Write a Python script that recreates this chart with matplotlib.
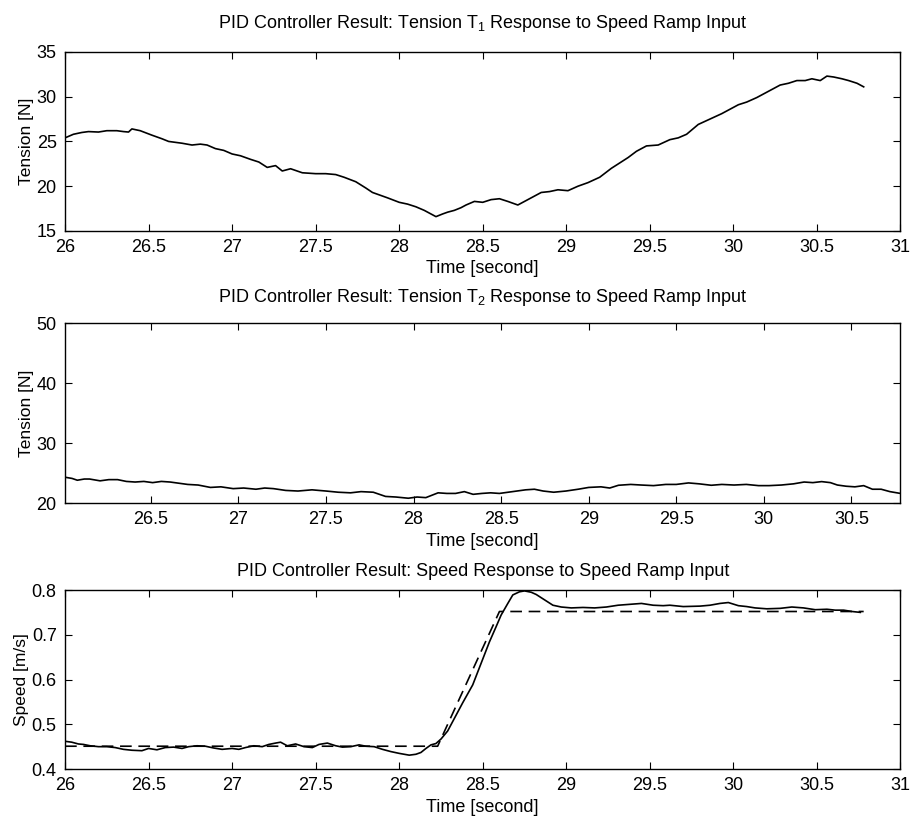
import matplotlib
matplotlib.use("Agg")
import matplotlib.pyplot as plt
import numpy as np

# fonts - helvetica look of the old matlab print
plt.rcParams['font.family'] = ['Liberation Sans Narrow', 'Liberation Sans', 'DejaVu Sans']
plt.rcParams['mathtext.fontset'] = 'custom'
plt.rcParams['mathtext.rm'] = 'Liberation Sans'
plt.rcParams['mathtext.default'] = 'regular'

# tension T1
t1_time = [26.0, 26.05, 26.1, 26.14, 26.2, 26.25, 26.31, 26.35, 26.38, 26.4, 26.45, 26.52,
           26.58, 26.62, 26.7, 26.76, 26.81, 26.85, 26.9, 26.95, 27.0, 27.05, 27.11, 27.16,
           27.21, 27.26, 27.3, 27.35, 27.42, 27.5, 27.56, 27.62, 27.67, 27.74, 27.8, 27.84,
           27.9, 27.93, 28.0, 28.05, 28.1, 28.15, 28.22, 28.26, 28.29, 28.33, 28.37, 28.4,
           28.45, 28.5, 28.55, 28.6, 28.65, 28.71, 28.76, 28.8, 28.85, 28.9, 28.95, 29.01,
           29.07, 29.13, 29.2, 29.27, 29.32, 29.37, 29.42, 29.48, 29.55, 29.62, 29.67, 29.72,
           29.79, 29.86, 29.93, 29.98, 30.03, 30.08, 30.14, 30.2, 30.28, 30.33, 30.38, 30.43,
           30.47, 30.52, 30.56, 30.6, 30.65, 30.69, 30.74, 30.78]
t1_val = [25.4, 25.8, 26.0, 26.1, 26.05, 26.2, 26.2, 26.1, 26.05, 26.4, 26.2, 25.7,
          25.3, 25.0, 24.8, 24.6, 24.7, 24.6, 24.2, 24.0, 23.6, 23.4, 23.0, 22.7,
          22.1, 22.3, 21.7, 21.95, 21.5, 21.4, 21.4, 21.3, 21.0, 20.5, 19.8, 19.3,
          18.9, 18.7, 18.2, 18.0, 17.7, 17.3, 16.6, 16.9, 17.1, 17.3, 17.6, 17.9,
          18.3, 18.2, 18.5, 18.6, 18.3, 17.9, 18.4, 18.8, 19.3, 19.4, 19.6, 19.5,
          20.0, 20.4, 21.0, 22.0, 22.6, 23.2, 23.9, 24.5, 24.6, 25.2, 25.4, 25.8,
          26.9, 27.5, 28.1, 28.6, 29.1, 29.4, 29.9, 30.5, 31.3, 31.5, 31.8, 31.8,
          32.0, 31.8, 32.3, 32.2, 32.0, 31.8, 31.5, 31.1]

# tension T2
t2_time = [26.01, 26.05, 26.08, 26.12, 26.15, 26.21, 26.26, 26.31, 26.36, 26.41, 26.46,
           26.51, 26.56, 26.61, 26.66, 26.71, 26.77, 26.84, 26.9, 26.97, 27.03, 27.1, 27.15,
           27.2, 27.27, 27.34, 27.42, 27.5, 27.57, 27.64, 27.7, 27.77, 27.84, 27.9, 27.97,
           28.02, 28.07, 28.14, 28.19, 28.24, 28.29, 28.34, 28.39, 28.44, 28.49, 28.54, 28.59,
           28.64, 28.69, 28.74, 28.8, 28.87, 28.94, 29.0, 29.07, 29.12, 29.17, 29.24, 29.3,
           29.37, 29.44, 29.5, 29.57, 29.63, 29.7, 29.76, 29.83, 29.9, 29.97, 30.03, 30.1,
           30.17, 30.23, 30.28, 30.33, 30.38, 30.42, 30.47, 30.52, 30.57, 30.62, 30.67,
           30.72, 30.78]
t2_val = [24.3, 24.1, 23.8, 24.0, 24.0, 23.7, 23.9, 23.9, 23.6, 23.5, 23.6,
          23.4, 23.6, 23.5, 23.3, 23.1, 23.0, 22.6, 22.7, 22.4, 22.5, 22.3, 22.5,
          22.4, 22.1, 22.0, 22.2, 22.0, 21.8, 21.7, 21.9, 21.8, 21.1, 21.0, 20.8,
          21.0, 20.9, 21.7, 21.6, 21.6, 21.9, 21.45, 21.6, 21.7, 21.6, 21.8, 22.0,
          22.2, 22.3, 22.0, 21.8, 22.0, 22.3, 22.6, 22.7, 22.5, 22.96, 23.1, 23.0,
          22.9, 23.1, 23.1, 23.35, 23.2, 22.96, 23.1, 23.0, 23.1, 22.9, 22.9, 23.0,
          23.2, 23.5, 23.4, 23.57, 23.4, 23.0, 22.8, 22.7, 22.9, 22.3, 22.3,
          21.9, 21.6]

# speed, measured
v_time = [26.0, 26.04, 26.08, 26.11, 26.15, 26.2, 26.25, 26.3, 26.35, 26.4, 26.46, 26.5,
          26.55, 26.6, 26.65, 26.7, 26.74, 26.79, 26.84, 26.89, 26.94, 27.0, 27.04, 27.08,
          27.13, 27.18, 27.22, 27.26, 27.29, 27.33, 27.38, 27.43, 27.48, 27.52, 27.57, 27.62,
          27.66, 27.71, 27.76, 27.8, 27.85, 27.9, 27.95, 28.0, 28.06, 28.1, 28.13, 28.16,
          28.19, 28.22, 28.25, 28.29, 28.33, 28.38, 28.44, 28.49, 28.54, 28.58, 28.61,
          28.65, 28.68, 28.72, 28.75, 28.79, 28.82, 28.87, 28.92, 28.97, 29.03, 29.1, 29.17,
          29.24, 29.31, 29.38, 29.45, 29.52, 29.58, 29.62, 29.7, 29.8, 29.86, 29.92, 29.97,
          30.03, 30.08, 30.13, 30.2, 30.28, 30.35, 30.42, 30.49, 30.56, 30.61, 30.66,
          30.71, 30.76]
v_val = [0.462, 0.460, 0.456, 0.455, 0.452, 0.450, 0.450, 0.448, 0.444, 0.442, 0.441, 0.446,
         0.443, 0.448, 0.449, 0.446, 0.450, 0.452, 0.451, 0.447, 0.444, 0.446, 0.444, 0.448,
         0.452, 0.450, 0.455, 0.458, 0.460, 0.452, 0.456, 0.450, 0.448, 0.455, 0.458, 0.452,
         0.449, 0.450, 0.454, 0.451, 0.450, 0.444, 0.439, 0.435, 0.431, 0.433, 0.437, 0.446,
         0.454, 0.457, 0.467, 0.485, 0.513, 0.548, 0.588, 0.636, 0.684, 0.718, 0.744,
         0.770, 0.789, 0.796, 0.798, 0.795, 0.790, 0.778, 0.766, 0.762, 0.760, 0.761, 0.760,
         0.762, 0.766, 0.768, 0.770, 0.766, 0.765, 0.766, 0.763, 0.764, 0.766, 0.770, 0.772,
         0.765, 0.763, 0.760, 0.758, 0.759, 0.762, 0.760, 0.756, 0.757, 0.755, 0.755,
         0.752, 0.750]

# speed, reference ramp (dashed)
ref_time = [26.0, 28.23, 28.6, 30.78]
ref_val = [0.451, 0.451, 0.752, 0.752]

fig = plt.figure(figsize=(9.11, 8.19), dpi=100)

ax1 = fig.add_axes([0.0714, 0.7180, 0.917, 0.2186])
ax2 = fig.add_axes([0.0714, 0.3858, 0.917, 0.2198])
ax3 = fig.add_axes([0.0714, 0.0610, 0.917, 0.2186])

ylab_font = ['Liberation Sans', 'DejaVu Sans']

ax1.plot(t1_time, t1_val, color="black", lw=1.2)
ax1.set_xlim(26, 31)
ax1.set_ylim(15, 35)
ax1.set_xticks(np.arange(26, 31.01, 0.5))
ax1.set_yticks([15, 20, 25, 30, 35])
ax1.set_title(r"PID Controller Result: Tension $\mathrm{T}_1$ Response to Speed Ramp Input",
              fontsize=13, pad=17)
ax1.set_ylabel("Tension [N]", family=ylab_font, fontsize=12.5, labelpad=2)

ax2.plot(t2_time, t2_val, color="black", lw=1.2)
ax2.set_xlim(26.01, 30.78)
ax2.set_ylim(20, 50)
ax2.set_xticks(np.arange(26.5, 30.51, 0.5))
ax2.set_yticks([20, 30, 40, 50])
ax2.set_title(r"PID Controller Result: Tension $\mathrm{T}_2$ Response to Speed Ramp Input",
              fontsize=13, pad=15)
ax2.set_ylabel("Tension [N]", family=ylab_font, fontsize=12.5, labelpad=2)

ax3.plot(v_time, v_val, color="black", lw=1.2)
ax3.plot(ref_time, ref_val, color="black", lw=1.2, ls=(0, (7, 4)))
ax3.set_xlim(26, 31)
ax3.set_ylim(0.4, 0.8)
ax3.set_xticks(np.arange(26, 31.01, 0.5))
ax3.set_yticks([0.4, 0.5, 0.6, 0.7, 0.8])
ax3.set_title("PID Controller Result: Speed Response to Speed Ramp Input", fontsize=13, pad=10)
ax3.set_ylabel("Speed [m/s]", family=ylab_font, fontsize=12.5, labelpad=2)

for ax in (ax1, ax2, ax3):
    ax.set_xlabel("Time [second]", fontsize=13, labelpad=3)
    ax.xaxis.set_major_formatter(matplotlib.ticker.FormatStrFormatter('%g'))
    ax.yaxis.set_major_formatter(matplotlib.ticker.FormatStrFormatter('%g'))
    ax.tick_params(direction="in", top=True, right=True, length=5, labelsize=13, pad=6)
    for s in ax.spines.values():
        s.set_linewidth(1.0)

fig.savefig("out.png", dpi=100)
